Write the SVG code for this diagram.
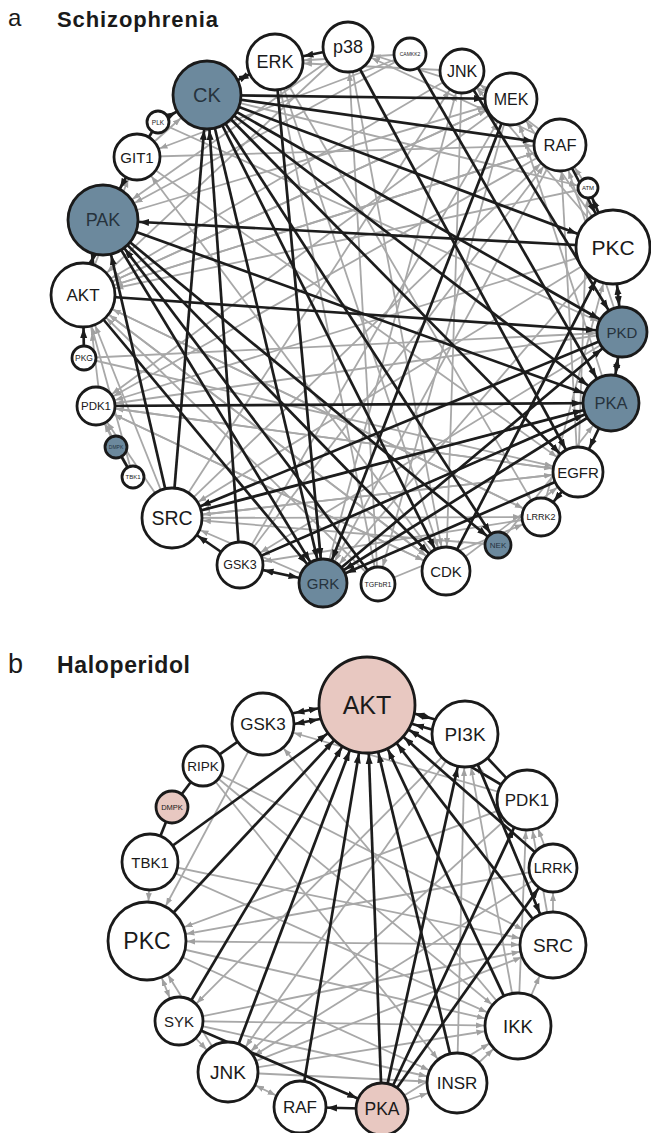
<svg xmlns="http://www.w3.org/2000/svg" xmlns:xlink="http://www.w3.org/1999/xlink" width="651" height="1133" viewBox="0 0 651 1133">
<style>
.k{stroke:#1c1c1c;stroke-width:2.7;fill:none}
.g{stroke:#a8a8a8;stroke-width:1.8;fill:none}
.n circle{stroke:#1a1a1a;stroke-width:2.8}
.w{fill:#ffffff}.bl{fill:#6c899d}.pk{fill:#e8c8c1}
text{font-family:"Liberation Sans",Arial,sans-serif;fill:#1a1a1a}
.n text{text-anchor:middle;dominant-baseline:central}
.bl+text{fill:#26333d}
.ttl{font-weight:bold}
</style>
<defs>
<path id="ka" d="M0,0.5L10,4L0,7.5z" fill="#1c1c1c"/>
<path id="ga" d="M0,0.5L8,3.5L0,6.5z" fill="#a0a0a0"/>
<marker id="k10" markerUnits="userSpaceOnUse" markerWidth="10" markerHeight="8" refX="21" refY="4" orient="auto-start-reverse"><use href="#ka"/></marker>
<marker id="k11" markerUnits="userSpaceOnUse" markerWidth="10" markerHeight="8" refX="22" refY="4" orient="auto-start-reverse"><use href="#ka"/></marker>
<marker id="k12" markerUnits="userSpaceOnUse" markerWidth="10" markerHeight="8" refX="23" refY="4" orient="auto-start-reverse"><use href="#ka"/></marker>
<marker id="k13" markerUnits="userSpaceOnUse" markerWidth="10" markerHeight="8" refX="24" refY="4" orient="auto-start-reverse"><use href="#ka"/></marker>
<marker id="k16" markerUnits="userSpaceOnUse" markerWidth="10" markerHeight="8" refX="27" refY="4" orient="auto-start-reverse"><use href="#ka"/></marker>
<marker id="k17" markerUnits="userSpaceOnUse" markerWidth="10" markerHeight="8" refX="28" refY="4" orient="auto-start-reverse"><use href="#ka"/></marker>
<marker id="k19" markerUnits="userSpaceOnUse" markerWidth="10" markerHeight="8" refX="30" refY="4" orient="auto-start-reverse"><use href="#ka"/></marker>
<marker id="k20" markerUnits="userSpaceOnUse" markerWidth="10" markerHeight="8" refX="31" refY="4" orient="auto-start-reverse"><use href="#ka"/></marker>
<marker id="k22" markerUnits="userSpaceOnUse" markerWidth="10" markerHeight="8" refX="33" refY="4" orient="auto-start-reverse"><use href="#ka"/></marker>
<marker id="k23" markerUnits="userSpaceOnUse" markerWidth="10" markerHeight="8" refX="34" refY="4" orient="auto-start-reverse"><use href="#ka"/></marker>
<marker id="k24" markerUnits="userSpaceOnUse" markerWidth="10" markerHeight="8" refX="35" refY="4" orient="auto-start-reverse"><use href="#ka"/></marker>
<marker id="k25" markerUnits="userSpaceOnUse" markerWidth="10" markerHeight="8" refX="36" refY="4" orient="auto-start-reverse"><use href="#ka"/></marker>
<marker id="k26" markerUnits="userSpaceOnUse" markerWidth="10" markerHeight="8" refX="37" refY="4" orient="auto-start-reverse"><use href="#ka"/></marker>
<marker id="k28" markerUnits="userSpaceOnUse" markerWidth="10" markerHeight="8" refX="39" refY="4" orient="auto-start-reverse"><use href="#ka"/></marker>
<marker id="k30" markerUnits="userSpaceOnUse" markerWidth="10" markerHeight="8" refX="41" refY="4" orient="auto-start-reverse"><use href="#ka"/></marker>
<marker id="k31" markerUnits="userSpaceOnUse" markerWidth="10" markerHeight="8" refX="42" refY="4" orient="auto-start-reverse"><use href="#ka"/></marker>
<marker id="k32" markerUnits="userSpaceOnUse" markerWidth="10" markerHeight="8" refX="43" refY="4" orient="auto-start-reverse"><use href="#ka"/></marker>
<marker id="k33" markerUnits="userSpaceOnUse" markerWidth="10" markerHeight="8" refX="44" refY="4" orient="auto-start-reverse"><use href="#ka"/></marker>
<marker id="k34" markerUnits="userSpaceOnUse" markerWidth="10" markerHeight="8" refX="45" refY="4" orient="auto-start-reverse"><use href="#ka"/></marker>
<marker id="k35" markerUnits="userSpaceOnUse" markerWidth="10" markerHeight="8" refX="46" refY="4" orient="auto-start-reverse"><use href="#ka"/></marker>
<marker id="k37" markerUnits="userSpaceOnUse" markerWidth="10" markerHeight="8" refX="48" refY="4" orient="auto-start-reverse"><use href="#ka"/></marker>
<marker id="k39" markerUnits="userSpaceOnUse" markerWidth="10" markerHeight="8" refX="50" refY="4" orient="auto-start-reverse"><use href="#ka"/></marker>
<marker id="k48" markerUnits="userSpaceOnUse" markerWidth="10" markerHeight="8" refX="59" refY="4" orient="auto-start-reverse"><use href="#ka"/></marker>
<marker id="g10" markerUnits="userSpaceOnUse" markerWidth="8" markerHeight="7" refX="19" refY="3.5" orient="auto-start-reverse"><use href="#ga"/></marker>
<marker id="g17" markerUnits="userSpaceOnUse" markerWidth="8" markerHeight="7" refX="26" refY="3.5" orient="auto-start-reverse"><use href="#ga"/></marker>
<marker id="g19" markerUnits="userSpaceOnUse" markerWidth="8" markerHeight="7" refX="28" refY="3.5" orient="auto-start-reverse"><use href="#ga"/></marker>
<marker id="g22" markerUnits="userSpaceOnUse" markerWidth="8" markerHeight="7" refX="31" refY="3.5" orient="auto-start-reverse"><use href="#ga"/></marker>
<marker id="g23" markerUnits="userSpaceOnUse" markerWidth="8" markerHeight="7" refX="32" refY="3.5" orient="auto-start-reverse"><use href="#ga"/></marker>
<marker id="g24" markerUnits="userSpaceOnUse" markerWidth="8" markerHeight="7" refX="33" refY="3.5" orient="auto-start-reverse"><use href="#ga"/></marker>
<marker id="g25" markerUnits="userSpaceOnUse" markerWidth="8" markerHeight="7" refX="34" refY="3.5" orient="auto-start-reverse"><use href="#ga"/></marker>
<marker id="g26" markerUnits="userSpaceOnUse" markerWidth="8" markerHeight="7" refX="35" refY="3.5" orient="auto-start-reverse"><use href="#ga"/></marker>
<marker id="g28" markerUnits="userSpaceOnUse" markerWidth="8" markerHeight="7" refX="37" refY="3.5" orient="auto-start-reverse"><use href="#ga"/></marker>
<marker id="g30" markerUnits="userSpaceOnUse" markerWidth="8" markerHeight="7" refX="39" refY="3.5" orient="auto-start-reverse"><use href="#ga"/></marker>
<marker id="g31" markerUnits="userSpaceOnUse" markerWidth="8" markerHeight="7" refX="40" refY="3.5" orient="auto-start-reverse"><use href="#ga"/></marker>
<marker id="g32" markerUnits="userSpaceOnUse" markerWidth="8" markerHeight="7" refX="41" refY="3.5" orient="auto-start-reverse"><use href="#ga"/></marker>
<marker id="g33" markerUnits="userSpaceOnUse" markerWidth="8" markerHeight="7" refX="42" refY="3.5" orient="auto-start-reverse"><use href="#ga"/></marker>
<marker id="g34" markerUnits="userSpaceOnUse" markerWidth="8" markerHeight="7" refX="43" refY="3.5" orient="auto-start-reverse"><use href="#ga"/></marker>
<marker id="g35" markerUnits="userSpaceOnUse" markerWidth="8" markerHeight="7" refX="44" refY="3.5" orient="auto-start-reverse"><use href="#ga"/></marker>
<marker id="g37" markerUnits="userSpaceOnUse" markerWidth="8" markerHeight="7" refX="46" refY="3.5" orient="auto-start-reverse"><use href="#ga"/></marker>
<marker id="g39" markerUnits="userSpaceOnUse" markerWidth="8" markerHeight="7" refX="48" refY="3.5" orient="auto-start-reverse"><use href="#ga"/></marker>
</defs>
<rect width="651" height="1133" fill="#ffffff"/>
<text x="8" y="26" font-size="24">a</text>
<text class="ttl" x="57" y="27" font-size="22" textLength="161" lengthAdjust="spacing">Schizophrenia</text>
<text x="8" y="673" font-size="27">b</text>
<text class="ttl" x="57" y="673" font-size="23" textLength="133" lengthAdjust="spacing">Haloperidol</text>

<g id="connectors-a">
<g id="gray-a">
<line class="g" x1="462" y1="71" x2="275" y2="62" marker-end="url(#g28)"/>
<line class="g" x1="511" y1="99" x2="348" y2="47" marker-end="url(#g25)"/>
<line class="g" x1="560" y1="145" x2="462" y2="71" marker-end="url(#g22)"/>
<line class="g" x1="560" y1="145" x2="348" y2="47" marker-end="url(#g25)"/>
<line class="g" x1="410" y1="54" x2="275" y2="62" marker-end="url(#g28)"/>
<line class="g" x1="588" y1="188" x2="560" y2="145" marker-end="url(#g26)"/>
<line class="g" x1="613" y1="247" x2="511" y2="99" marker-end="url(#g26)"/>
<line class="g" x1="613" y1="247" x2="462" y2="71" marker-end="url(#g22)"/>
<line class="g" x1="622" y1="332" x2="560" y2="145" marker-end="url(#g26)"/>
<line class="g" x1="611" y1="403" x2="511" y2="99" marker-end="url(#g26)"/>
<line class="g" x1="578" y1="472" x2="560" y2="145" marker-end="url(#g26)"/>
<line class="g" x1="578" y1="472" x2="588" y2="188" marker-end="url(#g10)"/>
<line class="g" x1="541" y1="517" x2="613" y2="247" marker-end="url(#g37)"/>
<line class="g" x1="498" y1="545" x2="611" y2="403" marker-end="url(#g28)"/>
<line class="g" x1="446" y1="571" x2="578" y2="472" marker-end="url(#g25)"/>
<line class="g" x1="378" y1="584" x2="541" y2="517" marker-end="url(#g19)"/>
<line class="g" x1="323" y1="583" x2="172" y2="518" marker-end="url(#g30)"/>
<line class="g" x1="172" y1="518" x2="96" y2="406" marker-end="url(#g19)"/>
<line class="g" x1="133" y1="477" x2="96" y2="406" marker-end="url(#g19)"/>
<line class="g" x1="100" y1="400" x2="88" y2="300" marker-end="url(#g32)"/>
<line class="g" x1="172" y1="518" x2="83" y2="295" marker-end="url(#g32)"/>
<line class="g" x1="83" y1="295" x2="137" y2="157" marker-end="url(#g23)"/>
<line class="g" x1="137" y1="157" x2="207" y2="95" marker-end="url(#g34)"/>
<line class="g" x1="348" y1="47" x2="103" y2="220" marker-end="url(#g35)"/>
<line class="g" x1="348" y1="47" x2="83" y2="295" marker-end="url(#g32)"/>
<line class="g" x1="410" y1="54" x2="103" y2="220" marker-end="url(#g35)"/>
<line class="g" x1="410" y1="54" x2="137" y2="157" marker-end="url(#g23)"/>
<line class="g" x1="462" y1="71" x2="83" y2="295" marker-end="url(#g32)"/>
<line class="g" x1="511" y1="99" x2="83" y2="295" marker-end="url(#g32)"/>
<line class="g" x1="511" y1="99" x2="96" y2="406" marker-end="url(#g19)"/>
<line class="g" x1="560" y1="145" x2="96" y2="406" marker-end="url(#g19)"/>
<line class="g" x1="560" y1="145" x2="83" y2="295" marker-end="url(#g32)"/>
<line class="g" x1="588" y1="188" x2="83" y2="295" marker-end="url(#g32)"/>
<line class="g" x1="613" y1="247" x2="96" y2="406" marker-end="url(#g19)"/>
<line class="g" x1="613" y1="247" x2="172" y2="518" marker-end="url(#g30)"/>
<line class="g" x1="622" y1="332" x2="240" y2="565" marker-end="url(#g23)"/>
<line class="g" x1="622" y1="332" x2="96" y2="406" marker-end="url(#g19)"/>
<line class="g" x1="611" y1="403" x2="172" y2="518" marker-end="url(#g30)"/>
<line class="g" x1="578" y1="472" x2="172" y2="518" marker-end="url(#g30)"/>
<line class="g" x1="578" y1="472" x2="96" y2="406" marker-end="url(#g19)"/>
<line class="g" x1="541" y1="517" x2="240" y2="565" marker-end="url(#g23)"/>
<line class="g" x1="541" y1="517" x2="83" y2="295" marker-end="url(#g32)"/>
<line class="g" x1="498" y1="545" x2="172" y2="518" marker-end="url(#g30)"/>
<line class="g" x1="446" y1="571" x2="83" y2="295" marker-end="url(#g32)"/>
<line class="g" x1="446" y1="571" x2="96" y2="406" marker-end="url(#g19)"/>
<line class="g" x1="446" y1="571" x2="137" y2="157" marker-end="url(#g23)"/>
<line class="g" x1="378" y1="584" x2="83" y2="295" marker-end="url(#g32)"/>
<line class="g" x1="378" y1="584" x2="348" y2="47" marker-end="url(#g25)"/>
<line class="g" x1="323" y1="583" x2="275" y2="62" marker-end="url(#g28)"/>
<line class="g" x1="323" y1="583" x2="462" y2="71" marker-end="url(#g22)"/>
<line class="g" x1="240" y1="565" x2="511" y2="99" marker-end="url(#g26)"/>
<line class="g" x1="240" y1="565" x2="560" y2="145" marker-end="url(#g26)"/>
<line class="g" x1="172" y1="518" x2="462" y2="71" marker-end="url(#g22)"/>
<line class="g" x1="172" y1="518" x2="560" y2="145" marker-end="url(#g26)"/>
<line class="g" x1="172" y1="518" x2="578" y2="472" marker-end="url(#g25)"/>
<line class="g" x1="172" y1="518" x2="541" y2="517" marker-end="url(#g19)"/>
<line class="g" x1="96" y1="406" x2="578" y2="472" marker-end="url(#g25)"/>
<line class="g" x1="96" y1="406" x2="446" y2="571" marker-end="url(#g24)"/>
<line class="g" x1="84" y1="358" x2="622" y2="332" marker-end="url(#g25)"/>
<line class="g" x1="84" y1="358" x2="578" y2="472" marker-end="url(#g25)"/>
<line class="g" x1="83" y1="295" x2="560" y2="145" marker-end="url(#g26)"/>
<line class="g" x1="83" y1="295" x2="511" y2="99" marker-end="url(#g26)"/>
<line class="g" x1="83" y1="295" x2="446" y2="571" marker-end="url(#g24)"/>
<line class="g" x1="83" y1="295" x2="541" y2="517" marker-end="url(#g19)"/>
<line class="g" x1="103" y1="220" x2="511" y2="99" marker-end="url(#g26)"/>
<line class="g" x1="137" y1="157" x2="560" y2="145" marker-end="url(#g26)"/>
<line class="g" x1="137" y1="157" x2="578" y2="472" marker-end="url(#g25)"/>
<line class="g" x1="158" y1="122" x2="622" y2="332" marker-end="url(#g25)"/>
<line class="g" x1="207" y1="95" x2="588" y2="188" marker-end="url(#g10)"/>
<line class="g" x1="275" y1="62" x2="541" y2="517" marker-end="url(#g19)"/>
<line class="g" x1="275" y1="62" x2="446" y2="571" marker-end="url(#g24)"/>
<line class="g" x1="275" y1="62" x2="378" y2="584" marker-end="url(#g17)"/>
<line class="g" x1="348" y1="47" x2="446" y2="571" marker-end="url(#g24)"/>
<line class="g" x1="462" y1="71" x2="446" y2="571" marker-end="url(#g24)"/>
<line class="g" x1="511" y1="99" x2="378" y2="584" marker-end="url(#g17)"/>
<line class="g" x1="560" y1="145" x2="323" y2="583" marker-end="url(#g24)"/>
<line class="g" x1="613" y1="247" x2="323" y2="583" marker-end="url(#g24)"/>
<line class="g" x1="613" y1="247" x2="446" y2="571" marker-end="url(#g24)"/>
<line class="g" x1="611" y1="403" x2="240" y2="565" marker-end="url(#g23)"/>
<line class="g" x1="116" y1="447" x2="96" y2="406" marker-end="url(#g19)"/>
<line class="g" x1="133" y1="477" x2="83" y2="295" marker-end="url(#g32)"/>
</g>
<g id="black-a">
<line class="k" x1="275" y1="62" x2="207" y2="95" marker-start="url(#k28)" marker-end="url(#k34)"/>
<line class="k" x1="348" y1="47" x2="275" y2="62" marker-end="url(#k28)"/>
<line class="k" x1="158" y1="122" x2="207" y2="95" marker-end="url(#k34)"/>
<line class="k" x1="158" y1="122" x2="137" y2="157"/>
<line class="k" x1="137" y1="157" x2="103" y2="220" marker-end="url(#k35)"/>
<line class="k" x1="83" y1="295" x2="103" y2="220" marker-start="url(#k32)" marker-end="url(#k35)"/>
<line class="k" x1="84" y1="358" x2="83" y2="295" marker-end="url(#k32)"/>
<line class="k" x1="116" y1="447" x2="133" y2="477"/>
<line class="k" x1="240" y1="565" x2="172" y2="518" marker-end="url(#k30)"/>
<line class="k" x1="240" y1="565" x2="323" y2="583" marker-start="url(#k23)" marker-end="url(#k24)"/>
<line class="k" x1="622" y1="332" x2="613" y2="247" marker-start="url(#k25)" marker-end="url(#k37)"/>
<line class="k" x1="611" y1="403" x2="622" y2="332" marker-start="url(#k28)" marker-end="url(#k25)"/>
<line class="k" x1="611" y1="403" x2="578" y2="472" marker-end="url(#k25)"/>
<line class="k" x1="578" y1="472" x2="541" y2="517" marker-end="url(#k19)"/>
<line class="k" x1="613" y1="247" x2="588" y2="188" marker-end="url(#k10)"/>
<line class="k" x1="560" y1="145" x2="613" y2="247" marker-end="url(#k37)"/>
<line class="k" x1="613" y1="247" x2="103" y2="220" marker-end="url(#k35)"/>
<line class="k" x1="83" y1="295" x2="622" y2="332" marker-end="url(#k25)"/>
<line class="k" x1="96" y1="406" x2="611" y2="403" marker-end="url(#k28)"/>
<line class="k" x1="207" y1="95" x2="613" y2="247" marker-end="url(#k37)"/>
<line class="k" x1="207" y1="95" x2="622" y2="332" marker-end="url(#k25)"/>
<line class="k" x1="207" y1="95" x2="611" y2="403" marker-end="url(#k28)"/>
<line class="k" x1="207" y1="95" x2="560" y2="145" marker-end="url(#k26)"/>
<line class="k" x1="207" y1="95" x2="511" y2="99" marker-end="url(#k26)"/>
<line class="k" x1="207" y1="95" x2="446" y2="571" marker-end="url(#k24)"/>
<line class="k" x1="207" y1="95" x2="323" y2="583" marker-end="url(#k24)"/>
<line class="k" x1="207" y1="95" x2="498" y2="545" marker-end="url(#k13)"/>
<line class="k" x1="207" y1="95" x2="578" y2="472" marker-end="url(#k25)"/>
<line class="k" x1="172" y1="518" x2="207" y2="95" marker-end="url(#k34)"/>
<line class="k" x1="240" y1="565" x2="207" y2="95" marker-end="url(#k34)"/>
<line class="k" x1="103" y1="220" x2="611" y2="403" marker-end="url(#k28)"/>
<line class="k" x1="103" y1="220" x2="323" y2="583" marker-end="url(#k24)"/>
<line class="k" x1="103" y1="220" x2="446" y2="571" marker-end="url(#k24)"/>
<line class="k" x1="103" y1="220" x2="498" y2="545" marker-end="url(#k13)"/>
<line class="k" x1="83" y1="295" x2="323" y2="583" marker-end="url(#k24)"/>
<line class="k" x1="172" y1="518" x2="611" y2="403" marker-end="url(#k28)"/>
<line class="k" x1="172" y1="518" x2="103" y2="220" marker-end="url(#k35)"/>
<line class="k" x1="240" y1="565" x2="611" y2="403" marker-end="url(#k28)"/>
<line class="k" x1="511" y1="99" x2="323" y2="583" marker-end="url(#k24)"/>
<line class="k" x1="410" y1="54" x2="611" y2="403" marker-end="url(#k28)"/>
<line class="k" x1="348" y1="47" x2="578" y2="472" marker-end="url(#k25)"/>
<line class="k" x1="462" y1="71" x2="622" y2="332" marker-end="url(#k25)"/>
<line class="k" x1="446" y1="571" x2="613" y2="247" marker-end="url(#k37)"/>
<line class="k" x1="378" y1="584" x2="103" y2="220" marker-end="url(#k35)"/>
<line class="k" x1="323" y1="583" x2="622" y2="332" marker-end="url(#k25)"/>
<line class="k" x1="611" y1="403" x2="323" y2="583" marker-end="url(#k24)"/>
<line class="k" x1="578" y1="472" x2="323" y2="583" marker-end="url(#k24)"/>
<line class="k" x1="622" y1="332" x2="172" y2="518" marker-end="url(#k30)"/>
<line class="k" x1="275" y1="62" x2="323" y2="583" marker-end="url(#k24)"/>
</g>
</g>

<g id="connectors-b">
<g id="gray-b">
<line class="g" x1="147" y1="941" x2="179" y2="1021" marker-start="url(#g39)" marker-end="url(#g24)"/>
<line class="g" x1="228" y1="1072" x2="147" y2="941" marker-end="url(#g39)"/>
<line class="g" x1="179" y1="1021" x2="228" y2="1072" marker-end="url(#g30)"/>
<line class="g" x1="300" y1="1107" x2="228" y2="1072" marker-start="url(#g26)" marker-end="url(#g30)"/>
<line class="g" x1="553" y1="945" x2="147" y2="941" marker-start="url(#g33)" marker-end="url(#g39)"/>
<line class="g" x1="527" y1="800" x2="147" y2="941" marker-end="url(#g39)"/>
<line class="g" x1="553" y1="868" x2="147" y2="941" marker-end="url(#g39)"/>
<line class="g" x1="147" y1="941" x2="457" y2="1083" marker-end="url(#g30)"/>
<line class="g" x1="147" y1="941" x2="518" y2="1026" marker-end="url(#g33)"/>
<line class="g" x1="150" y1="862" x2="147" y2="941" marker-end="url(#g39)"/>
<line class="g" x1="150" y1="862" x2="518" y2="1026" marker-end="url(#g33)"/>
<line class="g" x1="150" y1="862" x2="553" y2="945" marker-end="url(#g33)"/>
<line class="g" x1="203" y1="766" x2="518" y2="1026" marker-end="url(#g33)"/>
<line class="g" x1="203" y1="766" x2="553" y2="945" marker-end="url(#g33)"/>
<line class="g" x1="203" y1="766" x2="457" y2="1083" marker-end="url(#g30)"/>
<line class="g" x1="263" y1="724" x2="147" y2="941" marker-end="url(#g39)"/>
<line class="g" x1="518" y1="1026" x2="263" y2="724" marker-end="url(#g31)"/>
<line class="g" x1="527" y1="800" x2="263" y2="724" marker-end="url(#g31)"/>
<line class="g" x1="457" y1="1083" x2="465" y2="734" marker-end="url(#g33)"/>
<line class="g" x1="518" y1="1026" x2="465" y2="734" marker-end="url(#g33)"/>
<line class="g" x1="553" y1="945" x2="465" y2="734" marker-end="url(#g33)"/>
<line class="g" x1="553" y1="868" x2="527" y2="800" marker-end="url(#g30)"/>
<line class="g" x1="553" y1="945" x2="527" y2="800" marker-end="url(#g30)"/>
<line class="g" x1="518" y1="1026" x2="527" y2="800" marker-end="url(#g30)"/>
<line class="g" x1="553" y1="945" x2="553" y2="868" marker-end="url(#g24)"/>
<line class="g" x1="179" y1="1021" x2="553" y2="945" marker-end="url(#g33)"/>
<line class="g" x1="228" y1="1072" x2="553" y2="945" marker-end="url(#g33)"/>
<line class="g" x1="228" y1="1072" x2="518" y2="1026" marker-end="url(#g33)"/>
<line class="g" x1="179" y1="1021" x2="518" y2="1026" marker-end="url(#g33)"/>
<line class="g" x1="179" y1="1021" x2="457" y2="1083" marker-end="url(#g30)"/>
<line class="g" x1="228" y1="1072" x2="457" y2="1083" marker-end="url(#g30)"/>
<line class="g" x1="527" y1="800" x2="228" y2="1072" marker-end="url(#g30)"/>
<line class="g" x1="465" y1="734" x2="228" y2="1072" marker-end="url(#g30)"/>
<line class="g" x1="553" y1="868" x2="228" y2="1072" marker-end="url(#g30)"/>
<line class="g" x1="382" y1="1109" x2="457" y2="1083" marker-end="url(#g30)"/>
<line class="g" x1="382" y1="1109" x2="518" y2="1026" marker-end="url(#g33)"/>
<line class="g" x1="518" y1="1026" x2="553" y2="945" marker-end="url(#g33)"/>
<line class="g" x1="457" y1="1083" x2="518" y2="1026" marker-end="url(#g33)"/>
<line class="g" x1="465" y1="734" x2="179" y2="1021" marker-end="url(#g24)"/>
</g>
<g id="black-b">
<line class="k" x1="263" y1="719" x2="367" y2="699" marker-start="url(#k31)" marker-end="url(#k48)"/>
<line class="k" x1="263" y1="730" x2="367" y2="710" marker-start="url(#k31)" marker-end="url(#k48)"/>
<line class="k" x1="465" y1="728" x2="367" y2="700" marker-start="url(#k33)" marker-end="url(#k48)"/>
<line class="k" x1="465" y1="739" x2="367" y2="711" marker-end="url(#k48)"/>
<line class="k" x1="203" y1="766" x2="263" y2="724"/>
<line class="k" x1="172" y1="807" x2="203" y2="766"/>
<line class="k" x1="172" y1="807" x2="150" y2="862"/>
<line class="k" x1="150" y1="862" x2="367" y2="705" marker-end="url(#k48)"/>
<line class="k" x1="147" y1="941" x2="367" y2="705" marker-end="url(#k48)"/>
<line class="k" x1="179" y1="1021" x2="367" y2="705" marker-end="url(#k48)"/>
<line class="k" x1="228" y1="1072" x2="367" y2="705" marker-end="url(#k48)"/>
<line class="k" x1="300" y1="1107" x2="367" y2="705" marker-end="url(#k48)"/>
<line class="k" x1="382" y1="1109" x2="367" y2="705" marker-end="url(#k48)"/>
<line class="k" x1="457" y1="1083" x2="367" y2="705" marker-end="url(#k48)"/>
<line class="k" x1="518" y1="1026" x2="367" y2="705" marker-end="url(#k48)"/>
<line class="k" x1="553" y1="945" x2="367" y2="705" marker-end="url(#k48)"/>
<line class="k" x1="553" y1="868" x2="367" y2="705" marker-end="url(#k48)"/>
<line class="k" x1="527" y1="800" x2="367" y2="705" marker-end="url(#k48)"/>
<line class="k" x1="382" y1="1109" x2="300" y2="1107" marker-end="url(#k26)"/>
<line class="k" x1="179" y1="1021" x2="382" y2="1109" marker-end="url(#k26)"/>
<line class="k" x1="382" y1="1109" x2="465" y2="734" marker-end="url(#k33)"/>
<line class="k" x1="382" y1="1109" x2="527" y2="800" marker-end="url(#k30)"/>
<line class="k" x1="382" y1="1109" x2="553" y2="868" marker-end="url(#k24)"/>
<line class="k" x1="465" y1="734" x2="553" y2="945" marker-end="url(#k33)"/>
<line class="k" x1="465" y1="734" x2="527" y2="800"/>
</g>
</g>

<g class="n" id="a-CK"><circle class="bl" cx="207" cy="95" r="34"/><text x="207" y="95" font-size="20">CK</text></g>
<g class="n" id="a-ERK"><circle class="w" cx="275" cy="62" r="28"/><text x="275" y="62" font-size="18">ERK</text></g>
<g class="n" id="a-p38"><circle class="w" cx="348" cy="47" r="25"/><text x="348" y="47" font-size="18">p38</text></g>
<g class="n" id="a-CAMKK2"><circle class="w" cx="410" cy="54" r="16"/><text x="410" y="54" font-size="5">CAMKK2</text></g>
<g class="n" id="a-JNK"><circle class="w" cx="462" cy="71" r="22"/><text x="462" y="71" font-size="16">JNK</text></g>
<g class="n" id="a-MEK"><circle class="w" cx="511" cy="99" r="26"/><text x="511" y="99" font-size="16">MEK</text></g>
<g class="n" id="a-RAF"><circle class="w" cx="560" cy="145" r="26"/><text x="560" y="145" font-size="16.5">RAF</text></g>
<g class="n" id="a-ATM"><circle class="w" cx="588" cy="188" r="10"/><text x="588" y="188" font-size="6">ATM</text></g>
<g class="n" id="a-PKC"><circle class="w" cx="613" cy="247" r="37"/><text x="613" y="247" font-size="21">PKC</text></g>
<g class="n" id="a-PKD"><circle class="bl" cx="622" cy="332" r="25"/><text x="622" y="332" font-size="15">PKD</text></g>
<g class="n" id="a-PKA"><circle class="bl" cx="611" cy="403" r="28"/><text x="611" y="403" font-size="16.5">PKA</text></g>
<g class="n" id="a-EGFR"><circle class="w" cx="578" cy="472" r="25"/><text x="578" y="472" font-size="15">EGFR</text></g>
<g class="n" id="a-LRRK2"><circle class="w" cx="541" cy="517" r="19"/><text x="541" y="517" font-size="9">LRRK2</text></g>
<g class="n" id="a-NEK"><circle class="bl" cx="498" cy="545" r="13"/><text x="498" y="545" font-size="8">NEK</text></g>
<g class="n" id="a-CDK"><circle class="w" cx="446" cy="571" r="24"/><text x="446" y="571" font-size="15">CDK</text></g>
<g class="n" id="a-TGFbR1"><circle class="w" cx="378" cy="584" r="17"/><text x="378" y="584" font-size="7">TGFbR1</text></g>
<g class="n" id="a-GRK"><circle class="bl" cx="323" cy="583" r="24"/><text x="323" y="583" font-size="15">GRK</text></g>
<g class="n" id="a-GSK3"><circle class="w" cx="240" cy="565" r="23"/><text x="240" y="565" font-size="12.5">GSK3</text></g>
<g class="n" id="a-SRC"><circle class="w" cx="172" cy="518" r="30"/><text x="172" y="518" font-size="19.5">SRC</text></g>
<g class="n" id="a-TBK1"><circle class="w" cx="133" cy="477" r="11"/><text x="133" y="477" font-size="6">TBK1</text></g>
<g class="n" id="a-DMPK"><circle class="bl" cx="116" cy="447" r="11"/><text x="116" y="447" font-size="5">DMPK</text></g>
<g class="n" id="a-PDK1"><circle class="w" cx="96" cy="406" r="19"/><text x="96" y="406" font-size="11.5">PDK1</text></g>
<g class="n" id="a-PKG"><circle class="w" cx="84" cy="358" r="12"/><text x="84" y="358" font-size="8.5">PKG</text></g>
<g class="n" id="a-AKT"><circle class="w" cx="83" cy="295" r="32"/><text x="83" y="295" font-size="17">AKT</text></g>
<g class="n" id="a-PAK"><circle class="bl" cx="103" cy="220" r="35"/><text x="103" y="220" font-size="18">PAK</text></g>
<g class="n" id="a-GIT1"><circle class="w" cx="137" cy="157" r="23"/><text x="137" y="157" font-size="15">GIT1</text></g>
<g class="n" id="a-PLK"><circle class="w" cx="158" cy="122" r="11"/><text x="158" y="122" font-size="6.5">PLK</text></g>

<g class="n" id="b-AKT"><circle class="pk" cx="367" cy="705" r="48"/><text x="367" y="705" font-size="25">AKT</text></g>
<g class="n" id="b-PI3K"><circle class="w" cx="465" cy="734" r="33"/><text x="465" y="734" font-size="19">PI3K</text></g>
<g class="n" id="b-PDK1"><circle class="w" cx="527" cy="800" r="30"/><text x="527" y="800" font-size="17">PDK1</text></g>
<g class="n" id="b-LRRK"><circle class="w" cx="553" cy="868" r="24"/><text x="553" y="868" font-size="14.5">LRRK</text></g>
<g class="n" id="b-SRC"><circle class="w" cx="553" cy="945" r="33"/><text x="553" y="945" font-size="19">SRC</text></g>
<g class="n" id="b-IKK"><circle class="w" cx="518" cy="1026" r="33"/><text x="518" y="1026" font-size="18.5">IKK</text></g>
<g class="n" id="b-INSR"><circle class="w" cx="457" cy="1083" r="30"/><text x="457" y="1083" font-size="17">INSR</text></g>
<g class="n" id="b-PKA"><circle class="pk" cx="382" cy="1109" r="26"/><text x="382" y="1109" font-size="17.5">PKA</text></g>
<g class="n" id="b-RAF"><circle class="w" cx="300" cy="1107" r="26"/><text x="300" y="1107" font-size="17">RAF</text></g>
<g class="n" id="b-JNK"><circle class="w" cx="228" cy="1072" r="30"/><text x="228" y="1072" font-size="19">JNK</text></g>
<g class="n" id="b-SYK"><circle class="w" cx="179" cy="1021" r="24"/><text x="179" y="1021" font-size="15">SYK</text></g>
<g class="n" id="b-PKC"><circle class="w" cx="147" cy="941" r="39"/><text x="147" y="941" font-size="23">PKC</text></g>
<g class="n" id="b-TBK1"><circle class="w" cx="150" cy="862" r="28"/><text x="150" y="862" font-size="15">TBK1</text></g>
<g class="n" id="b-DMPK"><circle class="pk" cx="172" cy="807" r="16"/><text x="172" y="807" font-size="7.5">DMPK</text></g>
<g class="n" id="b-RIPK"><circle class="w" cx="203" cy="766" r="20"/><text x="203" y="766" font-size="13.5">RIPK</text></g>
<g class="n" id="b-GSK3"><circle class="w" cx="263" cy="724" r="31"/><text x="263" y="724" font-size="17">GSK3</text></g>
</svg>
